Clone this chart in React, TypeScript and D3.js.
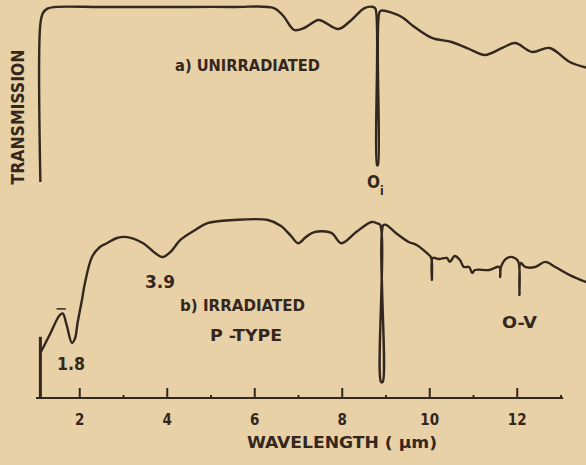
import * as d3 from "d3";

const W = 586;
const H = 465;
const INK = "#34271d";
const PAPER = "#e8d0a7";
const FONT = "'Liberation Sans Narrow', 'DejaVu Sans Condensed', 'Liberation Sans', sans-serif";

// a) unirradiated, wavelength (um) / relative transmission
const topWave = [1.1, 1.1, 1.16, 1.26, 1.43, 2.5, 4, 5.5, 6.44, 6.65, 6.9, 7.13, 7.45, 7.59, 7.91, 8.21, 8.51, 8.71, 8.76, 8.795, 8.815, 8.85, 8.9, 9.36, 9.59, 10.05, 10.5, 10.9, 11.26, 11.66, 11.95, 12.34, 12.74, 13.2, 13.63];
const topTrans = [0, 90.3, 96.6, 99.1, 100, 100, 100, 100, 99.4, 95, 86.9, 88, 92.6, 91.4, 87.4, 92.6, 99.4, 100, 99, 9.7, 9.7, 97, 98, 94.3, 89.7, 82.3, 80, 76, 72.6, 76.6, 79.4, 74.3, 76.6, 68.6, 65.1];

// b) irradiated p-type
const edgeWave = [1.1, 1.1];
const edgeTrans = [0, 34];
const botWave = [1.1, 1.31, 1.54, 1.61, 1.7, 1.82, 1.89, 1.95, 2.05, 2.11, 2.28, 2.46, 2.62, 2.85, 3.08, 3.45, 3.72, 3.89, 4.07, 4.3, 4.64, 4.92, 5.52, 6.3, 6.6, 6.83, 6.99, 7.17, 7.36, 7.75, 7.98, 8.32, 8.67, 8.8, 8.87, 8.885, 8.925, 8.94, 9.01, 9.2, 9.52, 9.7, 9.93, 10.03, 10.05, 10.07, 10.21, 10.39, 10.46, 10.57, 10.69, 10.78, 10.9, 10.97, 11.03, 11.36, 11.59, 11.61, 11.63, 11.77, 11.89, 12.02, 12.05, 12.08, 12.18, 12.41, 12.64, 12.87, 13.2, 13.63];
const botTrans = [25, 35, 46, 47, 40.6, 30.6, 33, 41.7, 54.4, 62.8, 78.3, 83.9, 86, 88.9, 89.4, 86, 80.6, 78.3, 81, 87.8, 93.3, 97.2, 98.9, 98.9, 95.6, 90, 86, 89.4, 92.2, 91.7, 86, 92.2, 97.8, 97, 96, 9, 9, 96, 96.1, 92.2, 86.7, 85, 80.6, 78, 65.6, 77.8, 77.2, 77.8, 75.6, 78.9, 76.7, 72.8, 72.8, 69.4, 71.1, 71.1, 72.8, 67.2, 73, 77.8, 78.3, 76, 57.2, 75, 72.8, 72.8, 75.6, 72.8, 68.3, 63.9];

const majorTicks = [2, 4, 6, 8, 10, 12];
const minorTicks = [3, 5, 7, 9, 11, 13];

export default function App() {
  const x = d3.scaleLinear().domain([1, 13]).range([36, 561]);
  const yTop = d3.scaleLinear().domain([0, 100]).range([182, 7]);
  const yBot = d3.scaleLinear().domain([0, 100]).range([398, 218]);

  const mkLine = (ys: d3.ScaleLinear<number, number>) =>
    d3
      .line<[number, number]>()
      .x((d) => x(d[0]))
      .y((d) => ys(d[1]))
      .curve(d3.curveCatmullRom.alpha(0.5));

  const topPts = topWave.map((w, i) => [w, topTrans[i]] as [number, number]);
  const botPts = botWave.map((w, i) => [w, botTrans[i]] as [number, number]);
  const edgePts = edgeWave.map((w, i) => [w, edgeTrans[i]] as [number, number]);
  const axisY = yBot(0);

  return (
    <svg width={W} height={H} style={{ position: "absolute", left: 0, top: 0 }} fontFamily={FONT}>
      <rect width={W} height={H} fill={PAPER} />
      <path d={mkLine(yTop)(topPts) || ""} fill="none" stroke={INK} strokeWidth={2.4} strokeLinejoin="round" />
      <path d={mkLine(yBot)(botPts) || ""} fill="none" stroke={INK} strokeWidth={2.4} strokeLinejoin="round" />
      <path d={d3.line<[number, number]>().x((d) => x(d[0])).y((d) => yBot(d[1]))(edgePts) || ""} stroke={INK} strokeWidth={3} />
      {/* 1.8 marker dash */}
      <line x1={x(1.47)} x2={x(1.68)} y1={yBot(49.5)} y2={yBot(49.5)} stroke={INK} strokeWidth={1.5} />

      {/* axis */}
      <line x1={x(1)} x2={x(13.05)} y1={axisY} y2={axisY} stroke={INK} strokeWidth={2.2} />
      {majorTicks.map((t) => (
        <g key={t}>
          <line x1={x(t)} x2={x(t)} y1={axisY} y2={axisY - 10} stroke={INK} strokeWidth={2} />
          <text x={x(t)} y={axisY + 27} textAnchor="middle" fontSize={15} fontWeight="bold" fill={INK}>
            {t}
          </text>
        </g>
      ))}
      {minorTicks.map((t) => (
        <line key={t} x1={x(t)} x2={x(t)} y1={axisY} y2={axisY - 3} stroke={INK} strokeWidth={2} />
      ))}

      <text x={342} y={448} textAnchor="middle" fontSize={15} fontWeight="bold" fill={INK} textLength={190} lengthAdjust="spacingAndGlyphs">
        WAVELENGTH  ( µm)
      </text>
      <text transform="translate(24,117) rotate(-90)" textAnchor="middle" fontSize={17} fontWeight="bold" fill={INK} textLength={135} lengthAdjust="spacingAndGlyphs">
        TRANSMISSION
      </text>
      <text x={175} y={71} fontSize={15} fontWeight="bold" fill={INK} textLength={145} lengthAdjust="spacingAndGlyphs">
        a) UNIRRADIATED
      </text>
      <text x={367} y={188} fontSize={17} fontWeight="bold" fill={INK}>
        O<tspan fontSize={12} dy={7}>i</tspan>
      </text>
      <text x={145} y={288} fontSize={17} fontWeight="bold" fill={INK} textLength={30} lengthAdjust="spacingAndGlyphs">3.9</text>
      <text x={180} y={311} fontSize={15} fontWeight="bold" fill={INK} textLength={125} lengthAdjust="spacingAndGlyphs">
        b) IRRADIATED
      </text>
      <text x={210} y={341} fontSize={15} fontWeight="bold" fill={INK} textLength={72} lengthAdjust="spacingAndGlyphs">
        P -TYPE
      </text>
      <text x={57} y={370} fontSize={17} fontWeight="bold" fill={INK} textLength={28} lengthAdjust="spacingAndGlyphs">1.8</text>
      <text x={502} y={328} fontSize={15} fontWeight="bold" fill={INK} textLength={35} lengthAdjust="spacingAndGlyphs">
        O-V
      </text>
    </svg>
  );
}
